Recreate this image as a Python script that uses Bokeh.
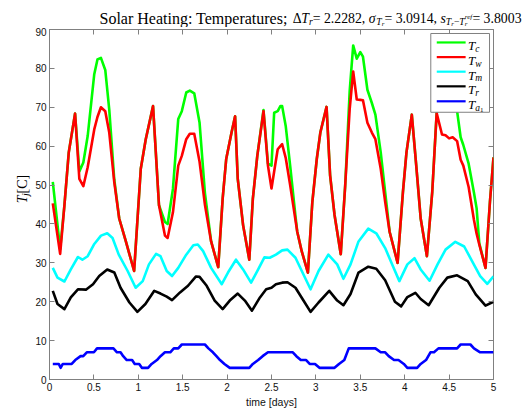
import numpy as np
from bokeh.plotting import figure
from bokeh.layouts import column, row
from bokeh.models import (Range1d, LinearAxis, FixedTicker, Label, BoxAnnotation,
                          CustomJSTickFormatter, ColumnDataSource)
from bokeh.embed import file_html
from bokeh.resources import INLINE

# ---------------- data (time in days, temperatures in C) ----------------
t_cw = [0.037, 0.12, 0.168, 0.217, 0.288, 0.336, 0.381, 0.43, 0.504, 0.54, 0.579, 0.628,
        0.673, 0.729, 0.785, 0.86, 0.953, 1.028, 1.084, 1.166, 1.233, 1.30, 1.33, 1.39,
        1.45, 1.49, 1.54, 1.58, 1.63, 1.69, 1.75, 1.82, 1.90, 1.95, 1.99, 2.05, 2.09,
        2.12, 2.18, 2.25, 2.29, 2.34, 2.41, 2.46, 2.50, 2.53, 2.57, 2.60, 2.62, 2.66,
        2.71, 2.77, 2.79, 2.84, 2.91, 2.96, 3.01, 3.05, 3.12, 3.16, 3.21, 3.28, 3.33,
        3.38, 3.42, 3.46, 3.50, 3.53, 3.58, 3.63, 3.67, 3.73, 3.78, 3.83, 3.92, 3.98,
        4.02, 4.08, 4.13, 4.18, 4.25, 4.31, 4.36, 4.42, 4.46, 4.50, 4.54, 4.59, 4.63,
        4.66, 4.72, 4.78, 4.81, 4.84, 4.91, 4.96, 5.0]
T_w = [45.3, 32.3, 44.8, 58.4, 68.4, 51.6, 49.7, 54.6, 64.3, 67.5, 70.0, 69.0,
       63.5, 50.8, 41.4, 35.5, 27.9, 54.2, 61.8, 70.3, 44.8, 37.0, 36.4, 43.0,
       55.0, 57.5, 61.8, 63.2, 63.2, 56.0, 45.0, 35.5, 28.9, 46.5, 56.7, 63.5, 67.7,
       51.6, 39.7, 30.8, 46.5, 57.5, 69.0, 55.0, 49.1, 53.5, 59.2, 60.0, 60.5, 57.0,
       50.0, 41.0, 38.0, 33.0, 27.5, 45.7, 56.7, 63.5, 70.1, 52.5, 42.3, 32.2, 49.9,
       69.4, 79.2, 72.0, 71.9, 71.8, 66.0, 63.5, 61.8, 54.2, 45.7, 38.0, 30.0, 48.2,
       58.4, 68.1, 55.0, 41.4, 31.7, 48.2, 68.5, 63.0, 62.8, 62.0, 62.3, 61.3, 56.5,
       55.0, 49.5, 41.0, 37.5, 34.7, 28.7, 45.7, 57.1]
T_c = [50.8, 33.5, 44.8, 58.4, 68.4, 53.5, 55.8, 62.6, 78.5, 82.3, 82.7, 79.6,
       69.4, 51.5, 41.4, 35.5, 27.9, 54.2, 61.8, 70.3, 44.8, 40.5, 40.0, 49.0,
       67.0, 69.0, 73.8, 74.3, 73.6, 66.0, 48.0, 35.5, 28.9, 46.5, 56.7, 63.5, 67.7,
       51.6, 39.7, 30.8, 46.5, 57.5, 69.3, 55.5, 55.0, 68.6, 69.0, 70.3, 70.3, 65.2,
       55.0, 42.0, 38.0, 33.0, 27.5, 45.7, 56.7, 63.5, 70.1, 52.5, 42.3, 32.2, 49.9,
       74.0, 85.9, 82.5, 84.2, 83.0, 74.5, 71.1, 68.1, 58.4, 48.2, 38.0, 30.0, 48.2,
       58.4, 68.1, 55.0, 41.4, 31.7, 48.2, 68.5, 72.0, 74.0, 74.0, 72.0, 69.0, 62.3,
       60.3, 55.5, 48.0, 44.0, 35.0, 28.7, 45.7, 57.1]

t_m = [0.037, 0.09, 0.168, 0.24, 0.32, 0.37, 0.43, 0.50, 0.58, 0.65, 0.71, 0.78, 0.88,
       0.97, 1.05, 1.12, 1.20, 1.25, 1.32, 1.38, 1.45, 1.54, 1.62, 1.67, 1.73, 1.82,
       1.94, 2.01, 2.10, 2.18, 2.27, 2.35, 2.42, 2.48, 2.55, 2.62, 2.68, 2.77, 2.86,
       2.94, 3.03, 3.14, 3.24, 3.31, 3.39, 3.48, 3.59, 3.68, 3.78, 3.87, 3.94, 4.03,
       4.11, 4.18, 4.28, 4.37, 4.46, 4.57, 4.67, 4.76, 4.85, 4.93, 5.0]
T_m = [28.7, 26.2, 25.2, 28.3, 31.5, 30.8, 31.7, 34.7, 37.0, 37.6, 36.4, 32.1, 27.9,
       23.6, 25.3, 29.6, 32.3, 31.7, 27.9, 26.6, 28.7, 32.1, 34.5, 34.7, 33.0, 28.7,
       24.5, 27.5, 30.8, 28.3, 24.9, 28.3, 31.4, 31.3, 32.1, 33.2, 33.4, 31.3, 27.0,
       23.2, 27.9, 32.1, 29.6, 25.9, 29.6, 35.5, 38.8, 37.6, 33.8, 29.0, 25.3, 29.6,
       31.2, 28.3, 25.4, 29.6, 33.4, 35.4, 34.2, 30.4, 26.6, 24.6, 26.5]

t_r = [0.037, 0.09, 0.168, 0.24, 0.32, 0.41, 0.49, 0.56, 0.65, 0.73, 0.80, 0.90, 0.99,
       1.08, 1.18, 1.25, 1.32, 1.38, 1.47, 1.56, 1.65, 1.69, 1.77, 1.86, 1.95, 2.03,
       2.12, 2.20, 2.28, 2.37, 2.44, 2.50, 2.55, 2.62, 2.68, 2.77, 2.86, 2.94, 3.03,
       3.15, 3.24, 3.31, 3.39, 3.48, 3.59, 3.68, 3.78, 3.89, 3.96, 4.03, 4.12, 4.18,
       4.27, 4.39, 4.48, 4.59, 4.71, 4.80, 4.91, 5.0]
T_r = [22.8, 19.4, 18.1, 21.1, 23.2, 23.1, 24.5, 26.6, 28.3, 27.5, 23.6, 19.8, 17.4,
       19.4, 22.8, 22.1, 21.3, 20.4, 22.4, 24.1, 26.5, 26.4, 24.1, 20.3, 18.1, 20.3,
       22.1, 20.3, 17.7, 21.1, 23.2, 23.6, 24.5, 24.9, 25.0, 23.6, 20.3, 17.4, 19.8,
       22.8, 20.3, 19.1, 22.0, 27.5, 29.0, 28.5, 25.5, 20.0, 18.8, 21.2, 22.3, 20.7,
       19.1, 23.6, 26.2, 26.8, 25.3, 21.9, 19.0, 20.0]

t_a = [0.037, 0.105, 0.125, 0.15, 0.25, 0.29, 0.35, 0.38, 0.42, 0.50, 0.535, 0.72, 0.76,
       0.80, 0.83, 0.87, 0.93, 0.96, 1.01, 1.04, 1.11, 1.15, 1.21, 1.25, 1.30, 1.36,
       1.40, 1.45, 1.49, 1.75, 1.79, 1.84, 1.88, 1.92, 1.97, 2.03, 2.25, 2.29, 2.35,
       2.40, 2.46, 2.74, 2.78, 2.83, 2.89, 2.93, 2.99, 3.04, 3.21, 3.26, 3.32, 3.37,
       3.67, 3.73, 3.78, 3.82, 3.88, 3.93, 3.99, 4.03, 4.14, 4.18, 4.24, 4.29, 4.33,
       4.38, 4.59, 4.63, 4.74, 4.78, 4.85, 5.0]
T_a = [4, 4, 3, 4, 4, 5, 6, 6, 7, 7, 8, 8, 7,
       7, 6, 5, 5, 4, 4, 3, 3, 4, 5, 6, 7, 7,
       8, 8, 9, 9, 8, 7, 6, 5, 4, 3, 3, 4, 5,
       6, 7, 7, 6, 5, 5, 4, 4, 3, 3, 4, 5, 8,
       8, 7, 7, 6, 5, 5, 4, 3, 3, 4, 5, 7, 7,
       8, 8, 9, 9, 8, 7, 7]

x_ticks = [0, 0.5, 1, 1.5, 2, 2.5, 3, 3.5, 4, 4.5, 5]
x_tick_labels = ["0", "0.5", "1", "1.5", "2", "2.5", "3", "3.5", "4", "4.5", "5"]
y_ticks = [0, 10, 20, 30, 40, 50, 60, 70, 80, 90]

series_names = ["c", "w", "m", "r", "a"]
series_colors = ["#00ff00", "#ff0000", "#00ffff", "#000000", "#0000ff"]

# ---------------- layout (absolute canvas pixels) ----------------
W, H = 531, 410
TITLE_H = 27          # strip holding the title
YLAB_W = 32           # strip holding the y-axis label
FL, FR, FT, FB = 47, 493, 29, 380   # plot frame edges on the page
XMIN, XMAX, YMIN, YMAX = 0.0, 5.0, 0.0, 90.0
AXC = "#808080"
SERIF = "Liberation Serif"
SANS = "Liberation Sans"

def sx2x(sx):
    return XMIN + (sx - FL) / (FR - FL) * (XMAX - XMIN)

def sy2y(sy):
    return YMIN + (FB - sy) / (FB - FT) * (YMAX - YMIN)

# ---------------- main plot ----------------
p = figure(width=W - YLAB_W, height=H - TITLE_H,
           x_range=Range1d(XMIN, XMAX), y_range=Range1d(YMIN, YMAX),
           output_backend="svg", toolbar_location=None, title=None,
           min_border_left=FL - YLAB_W, min_border_right=W - FR,
           min_border_top=FT - TITLE_H, min_border_bottom=H - FB)
p.background_fill_color = "white"
p.border_fill_color = "white"
p.outline_line_color = AXC
p.outline_line_width = 1
p.xgrid.visible = False
p.ygrid.visible = False

p.xaxis.ticker = FixedTicker(ticks=x_ticks)
p.xaxis.major_label_overrides = dict(zip(x_ticks, x_tick_labels))
p.yaxis.ticker = FixedTicker(ticks=y_ticks)
for ax in (p.xaxis[0], p.yaxis[0]):
    ax.major_tick_in = 5
    ax.major_tick_out = 0
    ax.minor_tick_line_color = None
    ax.axis_line_color = AXC
    ax.major_tick_line_color = AXC
    ax.major_label_text_font = SANS
    ax.major_label_text_font_size = "10px"
    ax.major_label_text_color = "#111111"
    ax.major_label_standoff = 3
p.xaxis.axis_label = "time [days]"
p.xaxis.axis_label_text_font = SANS
p.xaxis.axis_label_text_font_size = "10.5px"
p.xaxis.axis_label_text_font_style = "normal"
p.xaxis.axis_label_text_color = "#111111"
p.xaxis.axis_label_standoff = 2

blank = CustomJSTickFormatter(code="return ''")
for loc, tk in (("above", x_ticks), ("right", y_ticks)):
    ax = LinearAxis(ticker=FixedTicker(ticks=tk), formatter=blank,
                    major_tick_in=5, major_tick_out=0, minor_tick_line_color=None,
                    axis_line_color=None, major_tick_line_color=AXC,
                    major_label_text_font_size="0px", major_label_standoff=0)
    p.add_layout(ax, loc)

LW = 2.6
p.line(t_cw, T_c, line_color=series_colors[0], line_width=LW, line_join="round")
p.line(t_cw, T_w, line_color=series_colors[1], line_width=LW, line_join="round")
p.line(t_m, T_m, line_color=series_colors[2], line_width=LW, line_join="round")
p.line(t_r, T_r, line_color=series_colors[3], line_width=LW, line_join="round")
p.line(t_a, T_a, line_color=series_colors[4], line_width=LW, line_join="round")

# ---------------- text helpers (Times metrics for Liberation Serif) ----------------
REG = {' ': 250, 'S': 556, 'o': 500, 'l': 278, 'a': 444, 'r': 333, 'H': 722, 'e': 444,
       't': 278, 'i': 278, 'n': 500, 'g': 500, ':': 278, 'T': 611, 'm': 778, 'p': 500,
       'u': 500, 's': 389, ';': 278, 'Δ': 612, '=': 564, '.': 250, ',': 250, '−': 564,
       '[': 333, ']': 333, 'C': 667, 'f': 333}
ITA = {'T': 556, 'r': 389, 's': 389, 'j': 278, 'e': 444, 'f': 278, 'c': 444, 'w': 667,
       'm': 722, 'a': 500, 'σ': 550}

def twidth(text, size, italic):
    tab = ITA if italic else REG
    return sum(tab.get(ch, 500) for ch in text) / 1000.0 * size

def add_pieces(fig, tx, ty, pieces, sx0, sy0, vertical=False):
    """Place text pieces; tx/ty map absolute page pixels to the figure's data units."""
    adv = 0.0
    for text, size, dy, italic, advance in pieces:
        if vertical:
            sx, sy, ang = sx0 + dy, sy0 - adv, np.pi / 2
        else:
            sx, sy, ang = sx0 + adv, sy0 + dy, 0.0
        fig.add_layout(Label(x=tx(sx), y=ty(sy), text=text, angle=ang,
                             text_font=SERIF, text_font_size=f"{size:.1f}px",
                             text_font_style="italic" if italic else "normal",
                             text_baseline="alphabetic", text_align="left",
                             text_color="black"))
        if advance:
            adv += twidth(text, size, italic)

def strip(width, height, x0, y0):
    f = figure(width=width, height=height, x_range=Range1d(x0, x0 + width),
               y_range=Range1d(y0 + height, y0), x_axis_type=None, y_axis_type=None,
               output_backend="svg", toolbar_location=None, title=None,
               min_border=0, outline_line_color=None)
    f.xgrid.visible = False
    f.ygrid.visible = False
    f.background_fill_color = "white"
    f.border_fill_color = "white"
    return f

# ---------------- title strip ----------------
tfig = strip(W, TITLE_H, 0, 0)
ST, SM = 16.0, 13.8
S1, S2 = SM * 0.7, SM * 0.5
title_pieces = [
    ("Solar Heating: Temperatures; ", ST, 0, False, True),
    ("Δ", SM, 0, False, True), ("T", SM, 0, True, True), ("r", S1, 3, True, True),
    ("= 2.2282, ", SM, 0, False, True),
    ("σ", SM, 0, True, True), ("T", S1, 3, True, True), ("r", S2, 5, True, True),
    ("= 3.0914, ", SM, 0, False, True),
    ("s", SM, 0, True, True), ("T", S1, 3, True, True), ("r", S2, 5, True, True),
    ("−", S1, 3, False, True), ("T", S1, 3, True, True),
    ("r", S2, 5, True, False), ("ref", S2, -2, True, True),
    ("= 3.8003", SM, 0, False, True),
]
add_pieces(tfig, lambda v: v, lambda v: v, title_pieces, 99, 18)

# ---------------- y-label strip ----------------
yfig = strip(YLAB_W, H - TITLE_H, 0, TITLE_H)
add_pieces(yfig, lambda v: v, lambda v: v,
           [("T", 14, 0, True, True), ("j", 10, 3, True, True), (" [C]", 14, 0, False, True)],
           22, 217, vertical=True)

# ---------------- legend (inside main frame) ----------------
LBOX = (430, 489, 33, 112)
p.add_layout(BoxAnnotation(left=sx2x(LBOX[0]), right=sx2x(LBOX[1]), top=sy2y(LBOX[2]),
                           bottom=sy2y(LBOX[3]), fill_color="white", fill_alpha=1.0,
                           line_color=AXC, line_width=1, line_alpha=1.0))
rows = [42, 56.7, 71.3, 86, 101]
src = ColumnDataSource(dict(x0=[sx2x(436)] * 5, x1=[sx2x(465)] * 5,
                            y=[sy2y(r) for r in rows], c=series_colors))
p.segment(x0="x0", y0="y", x1="x1", y1="y", line_color="c", line_width=2.2, source=src,
          level="overlay")
for name, r in zip(series_names, rows):
    pcs = [("T", 13, 0, True, True), (name, 9.5, 3, True, True)]
    if name == "a":
        pcs.append(("1", 7, 5, False, True))
    add_pieces(p, sx2x, sy2y, pcs, 467.5, r + 3.5)

layout = column(tfig, row(yfig, p, spacing=0), spacing=0)
open("out.html", "w").write(file_html(layout, INLINE))
